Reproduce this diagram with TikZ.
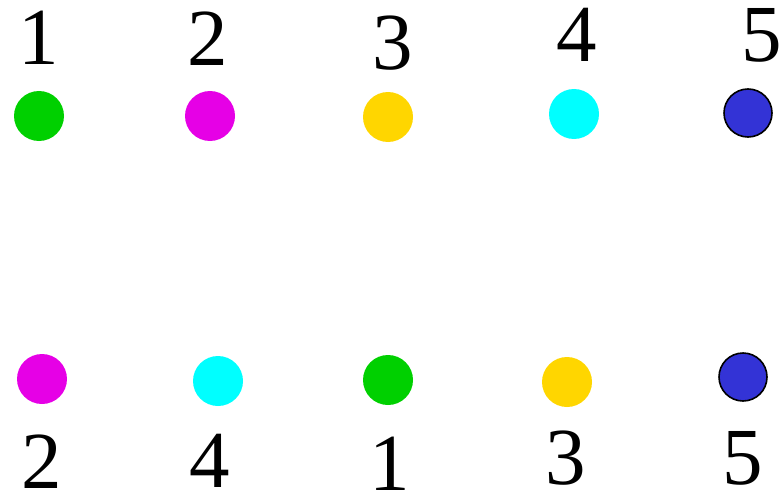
\documentclass[tikz,border=0pt]{standalone}
\usepackage{fontspec}
\setmainfont{Liberation Serif}
\usepackage{xcolor}
\definecolor{dotgreen}{RGB}{0,208,0}
\definecolor{dotmagenta}{RGB}{230,0,230}
\definecolor{dotyellow}{RGB}{255,214,0}
\definecolor{dotcyan}{RGB}{0,255,255}
\definecolor{dotblue}{RGB}{51,51,214}
\begin{document}
\begin{tikzpicture}[x=1pt, y=-1pt,
    dot/.style={circle, minimum size=50pt, inner sep=0pt, draw=none},
    bluedot/.style={dot, fill=dotblue, draw=black, line width=1.6pt, minimum size=48pt},
    lbl/.style={inner sep=0pt, anchor=base, font=\fontsize{81}{81}\selectfont}]
    \useasboundingbox (0,0) rectangle (781,492);
    % top row
    \node (t1) [dot, fill=dotgreen] at (39,116) {};
    \node (t2) [dot, fill=dotmagenta] at (210,116) {};
    \node (t3) [dot, fill=dotyellow] at (388,117) {};
    \node (t4) [dot, fill=dotcyan] at (574,114) {};
    \node (t5) [bluedot] at (748,113) {};
    \node (lt1) [lbl] at (39,65) {1};
    \node (lt2) [lbl] at (208,66) {2};
    \node (lt3) [lbl] at (393,70) {3};
    \node (lt4) [lbl] at (577,62) {4};
    \node (lt5) [lbl] at (762,62) {5};
    % bottom row
    \node (b1) [dot, fill=dotmagenta] at (42,379) {};
    \node (b2) [dot, fill=dotcyan] at (218,381) {};
    \node (b3) [dot, fill=dotgreen] at (388,380) {};
    \node (b4) [dot, fill=dotyellow] at (567,382) {};
    \node (b5) [bluedot] at (743,377) {};
    \node (lb1) [lbl] at (42,488) {2};
    \node (lb2) [lbl] at (210,487) {4};
    \node (lb3) [lbl] at (390,490) {1};
    \node (lb4) [lbl] at (566,484) {3};
    \node (lb5) [lbl] at (743,484) {5};
\end{tikzpicture}
\end{document}
